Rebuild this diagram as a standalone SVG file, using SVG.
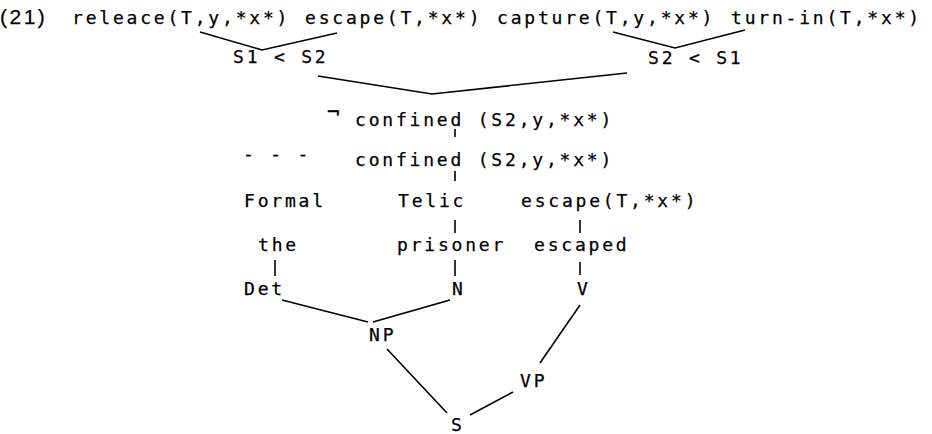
<svg xmlns="http://www.w3.org/2000/svg" width="932" height="434" viewBox="0 0 932 434">
<style>
text{font-family:"DejaVu Sans Mono","Liberation Mono",monospace;font-size:18px;letter-spacing:2.8px;fill:#000;stroke:#000;stroke-width:0.25}
.num{font-family:"Liberation Sans",Arial,sans-serif;font-size:21px;letter-spacing:2.5px}
.neg{font-size:21px;letter-spacing:0}
.c line,.c polyline{stroke:#000;stroke-width:1.6;fill:none}
</style>
<rect width="932" height="434" fill="#fff"/>
<g id="label"><text class="num" x="0" y="24">(21)</text></g>
<g id="releace"><text x="72" y="24">releace(T,y,*x*)</text></g>
<g id="escape-top"><text x="305" y="24">escape(T,*x*)</text></g>
<g id="capture"><text x="497" y="24">capture(T,y,*x*)</text></g>
<g id="turn-in"><text x="731" y="24">turn-in(T,*x*)</text></g>
<g id="s1s2"><text x="233" y="63">S1 &lt; S2</text></g>
<g id="s2s1"><text x="648" y="64">S2 &lt; S1</text></g>
<g id="notconfined"><text class="neg" x="327" y="119">¬</text><text x="355" y="126">confined (S2,y,*x*)</text></g>
<g id="dots"><text x="243" y="160">- - -</text></g>
<g id="confined"><text x="355" y="166">confined (S2,y,*x*)</text></g>
<g id="formal"><text x="244" y="207">Formal</text></g>
<g id="telic"><text x="398" y="207">Telic</text></g>
<g id="escape-q"><text x="521" y="207">escape(T,*x*)</text></g>
<g id="the"><text x="258" y="251">the</text></g>
<g id="prisoner"><text x="397" y="251">prisoner</text></g>
<g id="escaped"><text x="534" y="251">escaped</text></g>
<g id="det"><text x="244" y="295">Det</text></g>
<g id="n"><text x="452" y="295">N</text></g>
<g id="v"><text x="577" y="295">V</text></g>
<g id="np"><text x="369" y="341">NP</text></g>
<g id="vp"><text x="520" y="387">VP</text></g>
<g id="s"><text x="451" y="431">S</text></g>
<g id="connectors" class="c">
<polyline points="200,32 262,50 337,33"/>
<polyline points="613,32 675,48 745,30"/>
<polyline points="318,76 432,94 627,73"/>
<line x1="455" y1="129" x2="455" y2="137"/>
<line x1="455" y1="171" x2="455" y2="181"/>
<line x1="455" y1="220" x2="455" y2="233"/>
<line x1="580" y1="220" x2="580" y2="233"/>
<line x1="275" y1="260" x2="275" y2="276"/>
<line x1="455" y1="260" x2="455" y2="276"/>
<line x1="580" y1="262" x2="580" y2="275"/>
<line x1="282" y1="300" x2="368" y2="322"/>
<line x1="450" y1="300" x2="373" y2="322"/>
<line x1="387" y1="349" x2="447" y2="413"/>
<line x1="470" y1="415" x2="513" y2="392"/>
<line x1="540" y1="363" x2="580" y2="305"/>
</g>
</svg>
